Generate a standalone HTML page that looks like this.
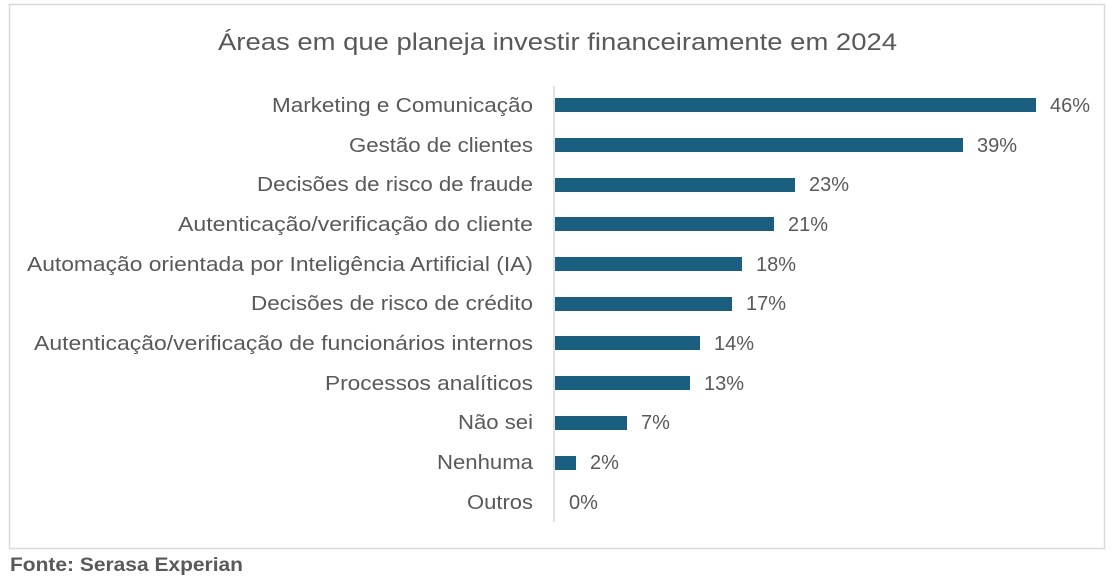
<!DOCTYPE html>
<html><head><meta charset="utf-8"><style>
html,body{margin:0;padding:0;background:#fff;width:1112px;height:578px;overflow:hidden}
svg{display:block}
text{font-family:"Liberation Sans",sans-serif;fill:#595959}
</style></head><body>
<svg width="1112" height="578" viewBox="0 0 1112 578">
<rect x="9.5" y="4.5" width="1095" height="544" fill="#fff" stroke="#d9d9d9" stroke-width="1.5"/>
<text x="218" y="50" font-size="24" textLength="679" lengthAdjust="spacingAndGlyphs">Áreas em que planeja investir financeiramente em 2024</text>
<line x1="554" y1="86" x2="554" y2="522" stroke="#d9d9d9" stroke-width="1.5"/>
<g font-size="20" lengthAdjust="spacingAndGlyphs">
<text x="272" y="112" textLength="261" lengthAdjust="spacingAndGlyphs">Marketing e Comunicação</text>
<text x="349" y="152" textLength="184" lengthAdjust="spacingAndGlyphs">Gestão de clientes</text>
<text x="257" y="191" textLength="276" lengthAdjust="spacingAndGlyphs">Decisões de risco de fraude</text>
<text x="178" y="231" textLength="355" lengthAdjust="spacingAndGlyphs">Autenticação/verificação do cliente</text>
<text x="27" y="271" textLength="506" lengthAdjust="spacingAndGlyphs">Automação orientada por Inteligência Artificial (IA)</text>
<text x="251" y="310" textLength="282" lengthAdjust="spacingAndGlyphs">Decisões de risco de crédito</text>
<text x="34" y="350" textLength="499" lengthAdjust="spacingAndGlyphs">Autenticação/verificação de funcionários internos</text>
<text x="325" y="390" textLength="208" lengthAdjust="spacingAndGlyphs">Processos analíticos</text>
<text x="458" y="429" textLength="75" lengthAdjust="spacingAndGlyphs">Não sei</text>
<text x="437" y="469" textLength="96" lengthAdjust="spacingAndGlyphs">Nenhuma</text>
<text x="467" y="509" textLength="66" lengthAdjust="spacingAndGlyphs">Outros</text>
<g fill="#1a5e80">
<rect x="555" y="98" width="481" height="14"/>
<rect x="555" y="138" width="408" height="14"/>
<rect x="555" y="178" width="240" height="14"/>
<rect x="555" y="217" width="219" height="14"/>
<rect x="555" y="257" width="187" height="14"/>
<rect x="555" y="297" width="177" height="14"/>
<rect x="555" y="336" width="145" height="14"/>
<rect x="555" y="376" width="135" height="14"/>
<rect x="555" y="416" width="72" height="14"/>
<rect x="555" y="456" width="21" height="14"/>
</g>
<text x="1050" y="112">46%</text>
<text x="977" y="152">39%</text>
<text x="809" y="191">23%</text>
<text x="788" y="231">21%</text>
<text x="756" y="271">18%</text>
<text x="746" y="310">17%</text>
<text x="714" y="350">14%</text>
<text x="704" y="390">13%</text>
<text x="641" y="429">7%</text>
<text x="590" y="469">2%</text>
<text x="569" y="509">0%</text>
</g>
<text x="10" y="571" font-size="19" font-weight="bold" textLength="233" lengthAdjust="spacingAndGlyphs">Fonte: Serasa Experian</text>
</svg>
</body></html>
